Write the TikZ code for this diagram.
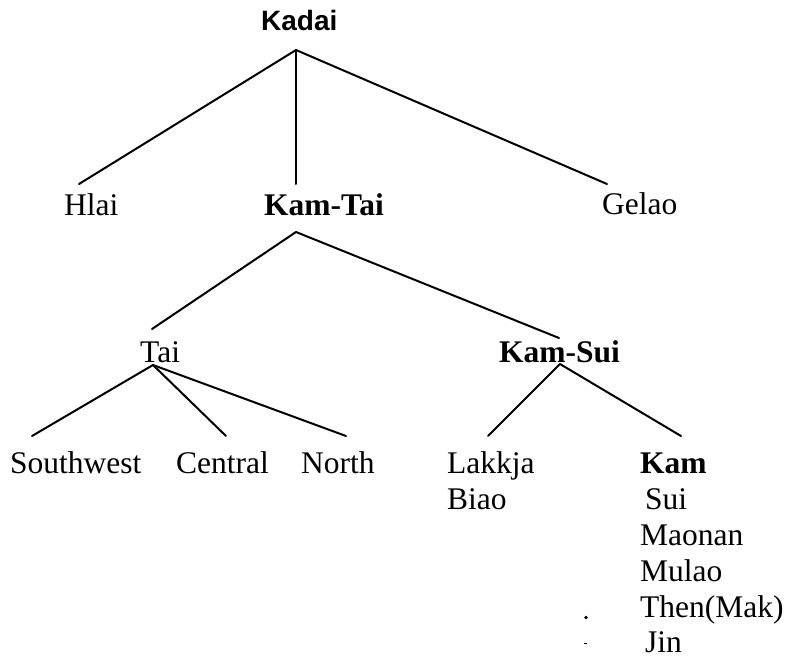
\documentclass[tikz,border=0pt]{standalone}
\usepackage{fontspec}
\setmainfont{Liberation Serif}
\newfontfamily\headfont{Liberation Sans}
\begin{document}
\begin{tikzpicture}[x=1pt,y=-1pt,
  lang/.style={anchor=base west,inner sep=0pt,font=\fontsize{31.5}{36}\selectfont},
  group/.style={lang,font=\fontsize{31.5}{36}\selectfont\bfseries},
  rootlang/.style={anchor=base west,inner sep=0pt,font=\fontsize{28}{32}\selectfont\headfont\bfseries},
  branch/.style={line width=2pt,line cap=round,line join=round}]
\useasboundingbox (0,0) rectangle (787,659);

% labels of the family tree
\node[rootlang] (kadai) at (261,30) {Kadai};
\node[lang]  (hlai)    at (64,215)  {Hlai};
\node[group] (kamtai)  at (264,215) {Kam-Tai};
\node[lang]  (gelao)   at (602,214) {Gelao};
\node[lang]  (tai)     at (140,362) {Tai};
\node[group] (kamsui)  at (499,362) {Kam-Sui};
\node[lang]  (sw)      at (10,473)  {Southwest};
\node[lang]  (central) at (176,473) {Central};
\node[lang]  (north)   at (301,473) {North};
\node[lang]  (lakkja)  at (447,473) {Lakkja};
\node[lang]  (biao)    at (447,509) {Biao};
\node[group] (kam)     at (640,473) {Kam};
\node[lang]  (sui)     at (645,509) {Sui};
\node[lang]  (maonan)  at (640,545) {Maonan};
\node[lang]  (mulao)   at (640,581) {Mulao};
\node[lang]  (then)    at (640,617) {Then(Mak)};
\node[lang]  (jin)     at (645,652) {Jin};

% branching points and line ends
\coordinate (kadai-fork)  at (296,50);
\coordinate (hlai-top)    at (79,184);
\coordinate (kamtai-top)  at (296,184);
\coordinate (gelao-top)   at (607,184);
\coordinate (kamtai-fork) at (296,232);
\coordinate (tai-top)     at (152,329);
\coordinate (kamsui-top)  at (559,338);
\coordinate (tai-fork)    at (153,365);
\coordinate (sw-top)      at (32,436);
\coordinate (central-top) at (226,436);
\coordinate (north-top)   at (346,436);
\coordinate (kamsui-fork) at (560,364);
\coordinate (lakkja-top)  at (488,436);
\coordinate (kam-top)     at (681,436);

\draw[branch] (hlai-top) -- (kadai-fork) -- (gelao-top);
\draw[branch] (kadai-fork) -- (kamtai-top);
\draw[branch] (tai-top) -- (kamtai-fork) -- (kamsui-top);
\draw[branch] (sw-top) -- (tai-fork) -- (central-top);
\draw[branch] (tai-fork) -- (north-top);
\draw[branch] (lakkja-top) -- (kamsui-fork) -- (kam-top);

% two small marks left of the Kam list
\fill (586,617.5) circle (1.8);
\fill (583.5,642.5) rectangle (587,644);
\end{tikzpicture}
\end{document}
